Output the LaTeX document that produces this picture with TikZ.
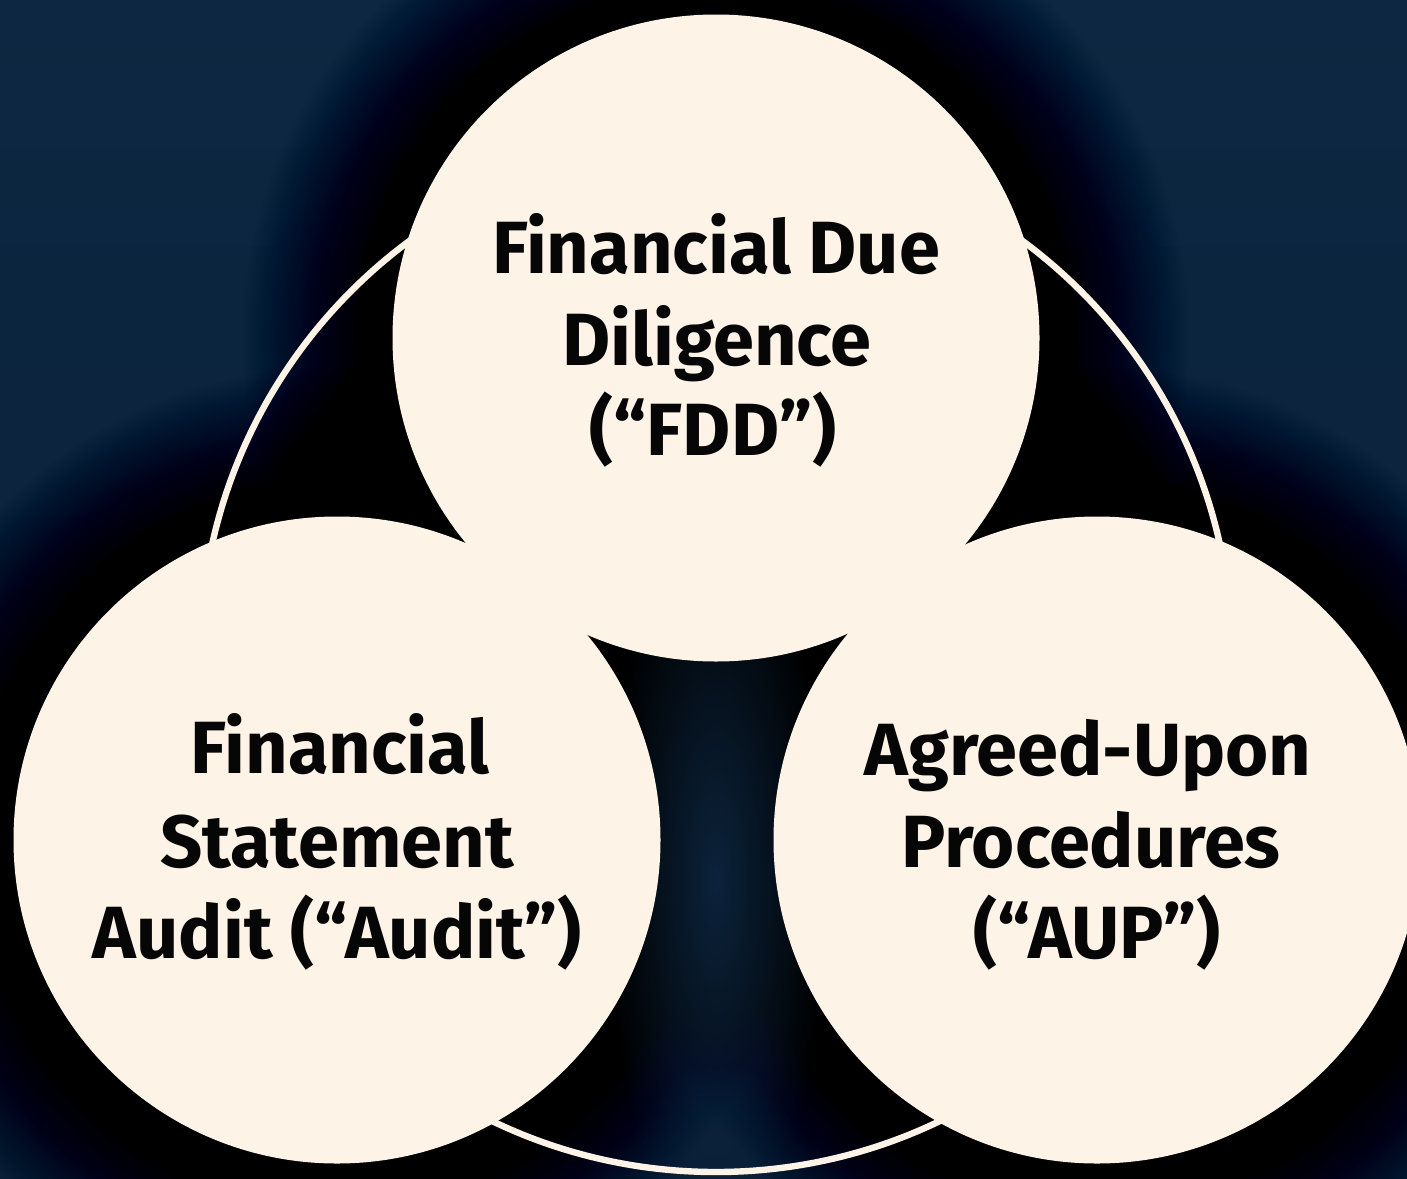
\documentclass[tikz,border=0pt]{standalone}
\usepackage{fontspec}
\usetikzlibrary{fadings}
\setmainfont{Fira Sans}
\tikzfading[name=softspot, inner color=transparent!0, outer color=transparent!100]
\begin{document}
\begin{tikzpicture}[x=0.5pt,y=-0.5pt]
\definecolor{navy}{RGB}{13,39,66}
\definecolor{navydeep}{RGB}{10,31,54}
\definecolor{cream}{RGB}{253,243,231}
\definecolor{ink}{RGB}{6,6,6}
\tikzset{
  disc/.style={circle, fill=cream, draw=none, inner sep=0pt, minimum size=323.5pt},
  lbl/.style={anchor=base, text=ink, inner sep=0pt,
    font=\fontsize{37pt}{46pt}\selectfont\bfseries},
  ring/.style={draw=cream, line width=3.2pt},
  glow/.style={fill=navy, path fading=softspot},
}
% backdrop
\shade[top color=navy, bottom color=navydeep] (0,0) rectangle (1407,1178);
\useasboundingbox (0,0) rectangle (1407,1178);

% centres of the three discs and of the ring
\coordinate (cFDD) at (716,338);
\coordinate (cAUD) at (337,840);
\coordinate (cAUP) at (1097,840);
\coordinate (hub)  at (716,656);

% soft dark halo around each disc: steep near the edge, long faint tail
\foreach \c in {cFDD,cAUD,cAUP}{
  \foreach \k in {1,...,75}{
    \pgfmathsetmacro\op{1-exp(-(0.007+0.2*exp(-2*\k/15)))}
    \fill[black, opacity=\op] (\c) circle [radius={161.75pt+\k*1pt}];
  }
}

% faint light in the gap between the discs
\fill[glow, opacity=0.9] (716,880) ellipse [x radius=55pt, y radius=190pt];

% ring linking the discs
\draw[ring] (hub) circle [radius=258pt];

% discs
\node[disc] (fdd) at (cFDD) {};
\node[disc] (aud) at (cAUD) {};
\node[disc] (aup) at (cAUP) {};

% labels
\node[lbl] (fdd1) at (716,273) {Financial Due};
\node[lbl] (fdd2) at (717,365) {Diligence};
\node[lbl] (fdd3) at (713,455) {(“FDD”)};

\node[lbl] (aud1) at (340,773) {Financial};
\node[lbl] (aud2) at (337,867) {Statement};
\node[lbl] (aud3) at (337,958) {Audit (“Audit”)};

\node[lbl] (aup1) at (1088,775) {Agreed-Upon};
\node[lbl] (aup2) at (1091,867) {Procedures};
\node[lbl] (aup3) at (1097,958) {(“AUP”)};
\end{tikzpicture}
\end{document}
